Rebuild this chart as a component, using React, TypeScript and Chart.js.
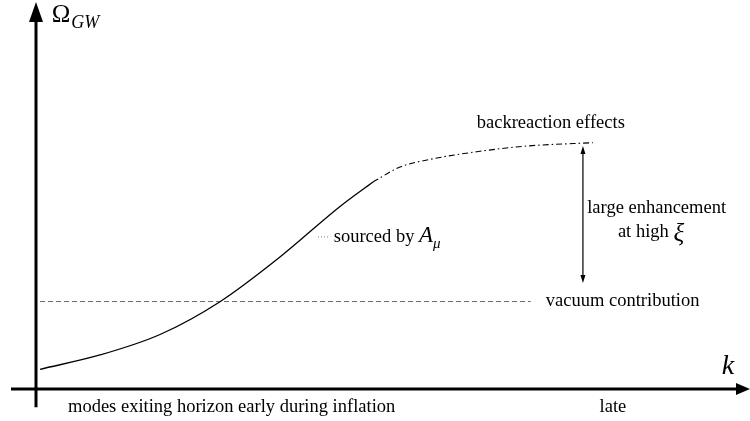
import React, { useEffect, useRef } from "react";
import { Chart, registerables } from "chart.js";

Chart.register(...registerables);

// ---- data (schematic units: k on x, Omega_GW on y) ----
const sourcedK = [0.056, 0.896, 1.737, 2.577, 3.417, 4.258, 4.72];
const sourcedOmega = [0.509, 0.879, 1.408, 2.256, 3.411, 4.716, 5.349];
const backreactionK = [4.72, 5.098, 5.476, 6.176, 6.877, 7.801];
const backreactionOmega = [5.349, 5.736, 5.917, 6.132, 6.279, 6.364];
const vacuumK = [0.056, 6.93];
const vacuumOmega = [2.26, 2.26];
const enhancementK = 7.66;
const enhancementOmega = [2.74, 6.28];

const xRange = [0, 10];
const yRange = [0, 10];

const SERIF = "'Liberation Serif', 'DejaVu Serif', serif";
const FS = 18.5;

function pts(xs: number[], ys: number[]) {
  return xs.map((x, i) => ({ x, y: ys[i] }));
}

const schematicPlugin = {
  id: "schematic",
  afterDraw(chart: any) {
    const ctx = chart.ctx as CanvasRenderingContext2D;
    const xs = chart.scales.x;
    const ys = chart.scales.y;
    const X = (v: number) => xs.getPixelForValue(v);
    const Y = (v: number) => ys.getPixelForValue(v);
    ctx.save();
    ctx.fillStyle = "#000";
    ctx.strokeStyle = "#000";

    // axes
    const x0 = X(0);
    const y0 = Y(0);
    ctx.lineWidth = 3;
    ctx.beginPath();
    ctx.moveTo(X(-0.35), y0);
    ctx.lineTo(X(9.85), y0);
    ctx.moveTo(x0, Y(-0.47));
    ctx.lineTo(x0, Y(9.6));
    ctx.stroke();
    // x arrow head
    const xt = X(10);
    ctx.beginPath();
    ctx.moveTo(xt, y0);
    ctx.lineTo(xt - 14, y0 - 6);
    ctx.lineTo(xt - 14, y0 + 6);
    ctx.closePath();
    ctx.fill();
    // y arrow head
    const yt = Y(10);
    ctx.beginPath();
    ctx.moveTo(x0, yt);
    ctx.lineTo(x0 - 7, yt + 20);
    ctx.lineTo(x0 + 7, yt + 20);
    ctx.closePath();
    ctx.fill();

    // enhancement double arrow
    const ax = X(enhancementK);
    const a1 = Y(enhancementOmega[0]);
    const a2 = Y(enhancementOmega[1]);
    ctx.lineWidth = 1.2;
    ctx.beginPath();
    ctx.moveTo(ax, a1 - 4);
    ctx.lineTo(ax, a2 + 4);
    ctx.stroke();
    ctx.beginPath();
    ctx.moveTo(ax, a2);
    ctx.lineTo(ax - 2.5, a2 + 8);
    ctx.lineTo(ax + 2.5, a2 + 8);
    ctx.closePath();
    ctx.fill();
    ctx.beginPath();
    ctx.moveTo(ax, a1);
    ctx.lineTo(ax - 2.5, a1 - 8);
    ctx.lineTo(ax + 2.5, a1 - 8);
    ctx.closePath();
    ctx.fill();

    // text helpers
    ctx.textBaseline = "middle";
    const txt = (s: string, x: number, y: number, size: number, align: CanvasTextAlign, italic = false) => {
      ctx.font = `${italic ? "italic " : ""}${size}px ${SERIF}`;
      ctx.textAlign = align;
      ctx.fillText(s, x, y);
      return ctx.measureText(s).width;
    };

    // Omega_GW label
    {
      const lx = X(0.22);
      const ly = Y(9.66);
      const w = txt("Ω", lx, ly, 25, "left");
      txt("GW", lx + w + 1, ly + 8, 18, "left", true);
    }
    // k label
    txt("k", X(9.69), Y(0.57), 28, "center", true);

    // backreaction
    txt("backreaction effects", X(7.21), Y(6.87), FS, "center");
    // large enhancement
    txt("large enhancement", X(7.72), Y(4.68), FS, "left");
    {
      const sx = X(8.15);
      const sy = Y(4.05);
      const w1 = txt("at high ", sx, sy, FS, "left");
      txt("ξ", sx + w1, sy + 2, 25, "left", true);
    }
    // vacuum contribution
    txt("vacuum contribution", X(7.14), Y(2.26), FS, "left");
    // sourced by A_mu
    {
      ctx.save();
      ctx.strokeStyle = "#777";
      ctx.lineWidth = 1;
      ctx.setLineDash([1, 2]);
      ctx.beginPath();
      ctx.moveTo(X(3.95), Y(3.93));
      ctx.lineTo(X(4.12), Y(3.93));
      ctx.stroke();
      ctx.restore();
      const sx = X(4.17);
      const sy = Y(3.93);
      const w = txt("sourced by ", sx, sy, FS, "left");
      const wa = txt("A", sx + w, sy - 1, 23, "left", true);
      txt("μ", sx + w + wa, sy + 7, 15, "left", true);
    }
    // bottom labels
    txt("modes exiting horizon early during inflation", X(2.74), Y(-0.47), FS, "center");
    txt("late", X(8.08), Y(-0.47), FS, "center");

    ctx.restore();
  },
};

export default function App() {
  const ref = useRef<HTMLCanvasElement>(null);
  useEffect(() => {
    if (!ref.current) return;
    const chart = new Chart(ref.current, {
      type: "line",
      data: {
        datasets: [
          {
            label: "sourced by A_mu",
            data: pts(sourcedK, sourcedOmega),
            borderColor: "#000",
            borderWidth: 1.3,
            pointRadius: 0,
            cubicInterpolationMode: "monotone",
            fill: false,
          },
          {
            label: "backreaction effects",
            data: pts(backreactionK, backreactionOmega),
            borderColor: "#000",
            borderWidth: 1.1,
            borderDash: [6, 3, 1.5, 3],
            pointRadius: 0,
            cubicInterpolationMode: "monotone",
            fill: false,
          },
          {
            label: "vacuum contribution",
            data: pts(vacuumK, vacuumOmega),
            borderColor: "#6a6a6a",
            borderWidth: 1,
            borderDash: [5, 3],
            pointRadius: 0,
            fill: false,
          },
        ],
      },
      options: {
        animation: false,
        responsive: true,
        maintainAspectRatio: false,
        layout: { padding: { left: 36, right: 0, top: 2, bottom: 32 } },
        plugins: { legend: { display: false }, tooltip: { enabled: false } },
        scales: {
          x: { type: "linear", min: xRange[0], max: xRange[1], display: false },
          y: { type: "linear", min: yRange[0], max: yRange[1], display: false },
        },
      },
      plugins: [schematicPlugin],
    });
    return () => chart.destroy();
  }, []);
  return (
    <div style={{ position: "absolute", left: 0, top: 0, width: 750, height: 421, background: "#fff" }}>
      <canvas ref={ref} />
    </div>
  );
}
